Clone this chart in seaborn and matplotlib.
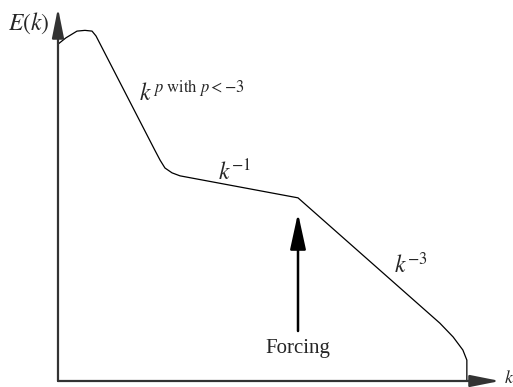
import matplotlib
matplotlib.use("Agg")
import matplotlib.pyplot as plt
import seaborn as sns
import pandas as pd

# spectrum sketch, values (arbitrary units, axis ends at 100)
k_vals = [0, 1.8, 4.3, 6.1, 7.7, 8.6, 21.9, 23.1, 24.2, 25.8, 27.6, 54.3, 86.4, 89.4, 91.6, 92.5, 92.5]
E_vals = [90.3, 92.0, 93.8, 94.0, 93.8, 92.5, 61.9, 59.2, 57.1, 55.8, 55.0, 49.1, 15.5, 11.8, 8.3, 5.6, 0]
k_forcing = 54.3
labels = [r'$k^{\,p\ \mathrm{with}\ p<-3}$', r'$k^{-1}$', r'$k^{-3}$']
label_k = [18.4, 36.2, 76.0]
label_E = [77.0, 56.0, 31.1]

sns.set_style("white")
plt.rcParams['font.family'] = ['Liberation Serif', 'DejaVu Serif']
plt.rcParams['mathtext.fontset'] = 'stix'

df = pd.DataFrame({'k': k_vals, 'E': E_vals})

fig = plt.figure(figsize=(5.13, 3.87), dpi=100)
ax = fig.add_axes([0, 0, 1, 1])
sns.lineplot(data=df, x='k', y='E', sort=False, estimator=None, color='black', lw=0.9, ax=ax)

ax.set_xlim(-13.12, 102.94)
ax.set_ylim(-1.61, 102.14)
ax.axis('off')

# axes with arrow heads
axis_arrow = dict(arrowstyle='-|>,head_length=1.0,head_width=0.2', color='#333333', lw=1.6,
                  mutation_scale=18, shrinkA=0, shrinkB=0)
ax.annotate('', xy=(100, 0), xytext=(0, 0), arrowprops=axis_arrow)
ax.annotate('', xy=(0, 100), xytext=(0, 0), arrowprops=axis_arrow)

ax.text(-6.6, 95.8, r'$E(k)$', fontsize=17, ha='center', va='center')
ax.text(100.8, 0.6, r'$k$', fontsize=13, ha='left', va='center')

for lab, x, y in zip(labels, label_k, label_E):
    ax.text(x, y, lab, fontsize=17, ha='left', va='center')

# forcing arrow
ax.annotate('', xy=(k_forcing, 45.0), xytext=(k_forcing, 13.4),
            arrowprops=dict(arrowstyle='-|>,head_length=1.1,head_width=0.24', color='black', lw=1.8,
                            mutation_scale=20, shrinkA=0, shrinkB=0))
ax.text(k_forcing, 8.6, 'Forcing', fontsize=15, ha='center', va='center')

plt.savefig('out.png', dpi=100)
